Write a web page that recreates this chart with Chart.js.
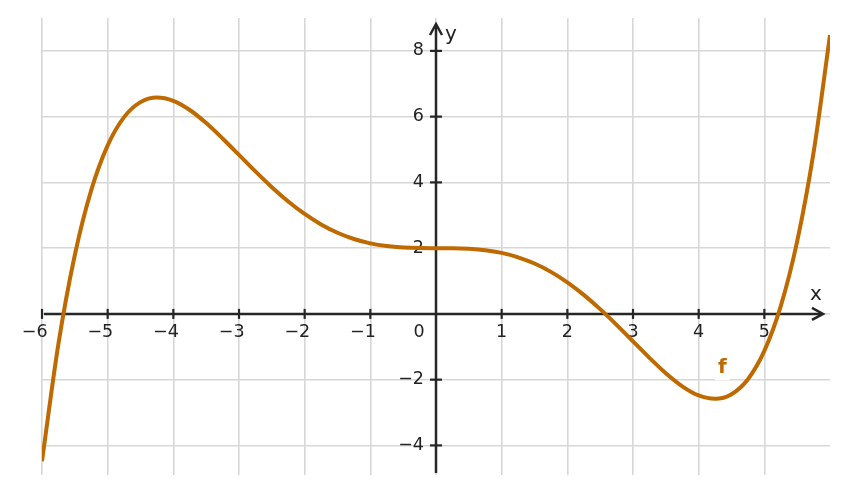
<!DOCTYPE html>
<html><head><meta charset="utf-8">
<script src="https://cdn.jsdelivr.net/npm/chart.js@4/dist/chart.umd.min.js"></script>
<style>html,body{margin:0;padding:0;background:#fff;overflow:hidden}canvas{display:block}</style>
</head><body>
<canvas id="c" width="848" height="496"></canvas>
<script>
const xValues = [-6,-5.75,-5.5,-5.25,-5,-4.75,-4.5,-4.25,-4,-3.75,-3.5,-3.25,-3,-2.75,-2.5,-2.25,-2,-1.75,-1.5,-1.25,-1,-0.75,-0.5,-0.25,0,0.25,0.5,0.75,1,1.25,1.5,1.75,2,2.25,2.5,2.75,3,3.25,3.5,3.75,4,4.25,4.5,4.75,5,5.25,5.5,5.75,6];
const fValues = [-4.48,-0.911,1.792,3.764,5.125,5.986,6.442,6.582,6.48,6.202,5.805,5.336,4.835,4.333,3.855,3.42,3.04,2.722,2.468,2.278,2.145,2.062,2.019,2.002,2,1.998,1.981,1.938,1.855,1.722,1.532,1.278,0.96,0.58,0.145,-0.333,-0.835,-1.336,-1.805,-2.202,-2.48,-2.582,-2.442,-1.986,-1.125,0.236,2.208,4.911,8.48];
const xTickValues = [-6,-5,-4,-3,-2,-1,0,1,2,3,4,5];
const xTickLabels = ['\u22126','\u22125','\u22124','\u22123','\u22122','\u22121','0','1','2','3','4','5'];
const yTickValues = [-4,-2,2,4,6,8];
const yTickLabels = ['\u22124','\u22122','2','4','6','8'];
const yGridValues = [-4,-2,0,2,4,6,8];
const seriesName = 'f';
const axisNames = ['x','y'];

const curveColor = '#bf6a00';
const axisColor = '#262626';
const gridColor = '#d7d7d7';

const axesPlugin = {
  id: 'axesPlugin',
  beforeDatasetsDraw(chart) {
    const ctx = chart.ctx, sx = chart.scales.x, sy = chart.scales.y, ca = chart.chartArea;
    const x0 = sx.getPixelForValue(0), y0 = sy.getPixelForValue(0);
    ctx.save();
    ctx.strokeStyle = axisColor; ctx.lineWidth = 2.5; ctx.lineCap = 'butt'; ctx.lineJoin = 'miter';
    // x axis
    const xTip = ca.right - 7;
    ctx.beginPath(); ctx.moveTo(ca.left + 2, y0); ctx.lineTo(xTip - 1, y0); ctx.stroke();
    ctx.beginPath(); ctx.moveTo(xTip - 11, y0 - 6); ctx.lineTo(xTip, y0); ctx.lineTo(xTip - 11, y0 + 6); ctx.stroke();
    // y axis
    const yTip = ca.top + 6;
    ctx.beginPath(); ctx.moveTo(x0, ca.bottom - 2); ctx.lineTo(x0, yTip + 1); ctx.stroke();
    ctx.beginPath(); ctx.moveTo(x0 - 6, yTip + 11); ctx.lineTo(x0, yTip); ctx.lineTo(x0 + 6, yTip + 11); ctx.stroke();
    // ticks
    ctx.lineWidth = 2.2;
    xTickValues.forEach(v => {
      if (v === 0) return;
      const px = sx.getPixelForValue(v);
      ctx.beginPath(); ctx.moveTo(px, y0 - 5); ctx.lineTo(px, y0 + 5); ctx.stroke();
    });
    yTickValues.forEach(v => {
      const py = sy.getPixelForValue(v);
      ctx.beginPath(); ctx.moveTo(x0 - 6, py); ctx.lineTo(x0 + 6, py); ctx.stroke();
    });
    // tick labels
    ctx.fillStyle = '#222';
    ctx.font = '17.5px "DejaVu Sans"';
    ctx.textBaseline = 'middle';
    xTickValues.forEach((v, i) => {
      const lab = xTickLabels[i];
      const px = sx.getPixelForValue(v);
      if (v === 0) {
        ctx.textAlign = 'center';
        ctx.fillText(lab, px - 17, y0 + 19);
        return;
      }
      const digits = lab.replace('\u2212', '');
      const w = ctx.measureText(digits).width;
      ctx.textAlign = 'right';
      ctx.fillText(lab, px + w / 2, y0 + 19);
    });
    ctx.textAlign = 'right';
    yTickValues.forEach((v, i) => {
      ctx.fillText(yTickLabels[i], x0 - 12, sy.getPixelForValue(v));
    });
    // axis names
    ctx.font = '20px "DejaVu Sans"';
    ctx.textBaseline = 'alphabetic';
    ctx.textAlign = 'left';
    ctx.fillText(axisNames[0], ca.right - 20, y0 - 14);
    ctx.fillText(axisNames[1], x0 + 9, ca.top + 22);
    ctx.restore();
  },
  afterDatasetsDraw(chart) {
    const ctx = chart.ctx, sx = chart.scales.x, sy = chart.scales.y;
    const px = sx.getPixelForValue(4.36), py = sy.getPixelForValue(-1.65);
    ctx.save();
    ctx.font = 'bold 20px "DejaVu Sans"';
    ctx.textAlign = 'center'; ctx.textBaseline = 'middle';
    const w = ctx.measureText(seriesName).width;
    ctx.fillStyle = '#fff';
    ctx.fillRect(px - w / 2 - 3, py - 10, w + 6, 22);
    ctx.fillStyle = curveColor;
    ctx.fillText(seriesName, px, py);
    ctx.restore();
  }
};

new Chart(document.getElementById('c'), {
  type: 'line',
  data: {
    datasets: [{
      label: seriesName,
      data: xValues.map((x, i) => ({ x: x, y: fValues[i] })),
      borderColor: curveColor,
      borderWidth: 4,
      pointRadius: 0,
      fill: false,
      cubicInterpolationMode: 'monotone'
    }]
  },
  options: {
    responsive: false,
    devicePixelRatio: 1,
    animation: false,
    layout: { padding: { left: 42, right: 18, top: 18, bottom: 21 } },
    plugins: { legend: { display: false }, tooltip: { enabled: false } },
    scales: {
      x: {
        type: 'linear', min: -6, max: 6,
        afterBuildTicks: s => { s.ticks = xTickValues.map(v => ({ value: v })); },
        ticks: { display: false },
        grid: { color: gridColor, lineWidth: 1.6, drawTicks: false },
        border: { display: false }
      },
      y: {
        type: 'linear', min: -4.9, max: 9,
        afterBuildTicks: s => { s.ticks = yGridValues.map(v => ({ value: v })); },
        ticks: { display: false },
        grid: { color: gridColor, lineWidth: 1.6, drawTicks: false },
        border: { display: false }
      }
    }
  },
  plugins: [axesPlugin]
});
</script>
</body></html>
